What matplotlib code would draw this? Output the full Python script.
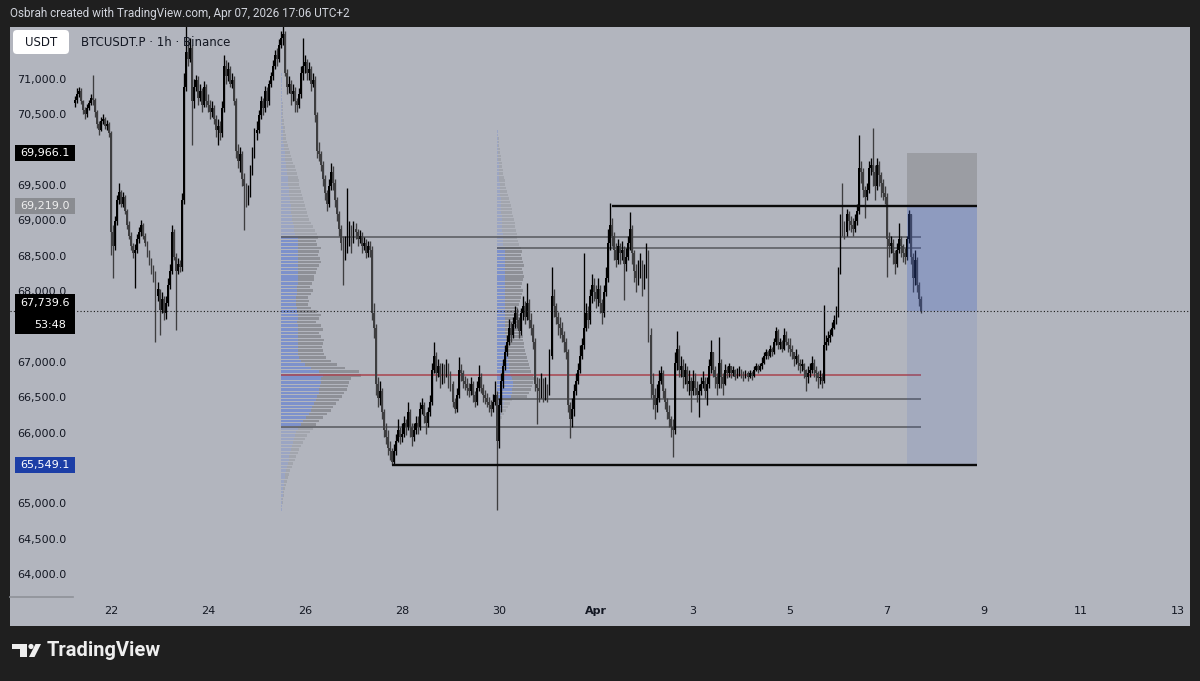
import matplotlib
matplotlib.use('Agg')
import matplotlib.pyplot as plt
import matplotlib.dates as mdates
from matplotlib.patches import Rectangle, FancyBboxPatch, Polygon, Circle
from matplotlib.transforms import blended_transform_factory
import numpy as np
import pandas as pd

plt.rcParams['font.family'] = ['DejaVu Sans']

# ---- BTCUSDT.P 1h candles (open = previous close) ----
first_open = 70680
first_bar = '2026-03-21 06:00'

close = [
    # Mar 21 (06:00 - 23:00)
    70720, 70800, 70850, 70700, 70580, 70520, 70600, 70680, 70750, 70720, 70550, 70380, 70300, 70420, 70450, 70350, 70380, 70250,
    # Mar 22
    68850, 68650, 69000, 69300, 69420, 69250, 69350, 69150, 68950, 68800, 68650, 68550, 68600, 68750, 68850, 68950, 68800, 68700, 68550, 68450, 68300, 68250, 67950, 68050,
    # Mar 23
    67750, 67900, 67700, 67850, 68100, 68300, 68850, 68500, 68300, 68400, 68350, 69300, 70900, 71400, 71300, 71450, 70700, 70900, 71000, 70750, 70850, 70650, 70900, 70700,
    # Mar 24
    70650, 70550, 70600, 70450, 70300, 70350, 70250, 70600, 71200, 71050, 71150, 70950, 71000, 70700, 70000, 69850, 69950, 69600, 69500, 69300, 69400, 69700, 69950, 70250,
    # Mar 25
    70300, 70500, 70700, 70600, 70850, 70700, 70950, 71050, 71200, 71350, 71300, 71500, 71600, 71650, 71100, 70900, 70950, 70800, 70850, 70700, 70650, 70800, 71100, 71200,
    # Mar 26
    71250, 71100, 71150, 70950, 71000, 70500, 70000, 69950, 69800, 69600, 69400, 69250, 69500, 69700, 69550, 69300, 69100, 68900, 68700, 68550, 68650, 68800, 68900, 68700,
    # Mar 27
    68900, 68850, 68750, 68800, 68650, 68700, 68550, 68650, 68600, 67700, 67500, 66700, 66500, 66600, 66300, 66050, 65950, 65800, 65750, 65600, 65750, 65900, 66050, 65950,
    # Mar 28
    66000, 66150, 66100, 66300, 66100, 65950, 66050, 66150, 66100, 66350, 66400, 66250, 66150, 66300, 66450, 66900, 67100, 66850, 66950, 66800, 66900, 66850, 66950, 66800,
    # Mar 29
    66700, 66450, 66350, 66550, 66900, 66850, 66750, 66700, 66650, 66600, 66700, 66550, 66450, 66650, 66800, 66650, 66550, 66500, 66450, 66400, 66350, 66450, 66550, 65900,
    # Mar 30
    66400, 66750, 66950, 67150, 67300, 67500, 67400, 67550, 67700, 67600, 67450, 67700, 67800, 67650, 67850, 67600, 67500, 67300, 66700, 66650, 66600, 66700, 66550, 66650,
    # Mar 31
    66600, 67100, 67950, 67800, 67650, 67550, 67500, 67400, 67300, 67150, 66400, 66200, 66350, 66600, 66750, 66900, 67100, 67250, 67500, 67700, 67600, 67950, 68100, 68000,
    # Apr 1
    67900, 68050, 67850, 67700, 68000, 68200, 68700, 68950, 68800, 68600, 68450, 68650, 68550, 68600, 68400, 68500, 68700, 68900, 68550, 68300, 68200, 68350, 68400, 68150,
    # Apr 2
    68300, 68550, 67400, 66700, 66550, 66400, 66500, 66750, 66850, 66600, 66450, 66300, 66200, 66100, 66050, 67000, 67200, 66900, 66950, 66800, 66900, 66700, 66750, 66600,
    # Apr 3
    66750, 66650, 66550, 66600, 66700, 66750, 66600, 66700, 66950, 67150, 66900, 66800, 66700, 67000, 66800, 66700, 66900, 66850, 66950, 66850, 66900, 66800, 66850, 66900,
    # Apr 4
    66850, 66800, 66850, 66800, 66850, 66820, 66900, 66950, 66900, 66950, 67000, 67100, 67150, 67100, 67200, 67150, 67300, 67450, 67250, 67300, 67200, 67400, 67300, 67250,
    # Apr 5
    67200, 67150, 67050, 67100, 67000, 66950, 66980, 66900, 66800, 66850, 66900, 67000, 66900, 66850, 66780, 66800, 66750, 67250, 67300, 67350, 67400, 67500, 67600, 67700,
    # Apr 6
    68300, 69000, 68900, 68850, 69100, 69000, 68950, 68900, 69000, 69150, 69750, 69700, 69450, 69350, 69450, 69750, 69800, 69700, 69500, 69800, 69650, 69550, 69400, 69350,
    # Apr 7 (00:00 - 17:00)
    68750, 68650, 68700, 68550, 68400, 68600, 68750, 68650, 68550, 68500, 68750, 69100, 68500, 68200, 68450, 68100, 67900, 67739.6,
]

high = [
    70780, 70880, 70900, 70880, 70720, 70620, 70660, 70720, 70800, 71070, 70740, 70570, 70420, 70480, 70520, 70480, 70430, 70400,
    70280, 68950, 69080, 69380, 69540, 69450, 69420, 69380, 69180, 69000, 68850, 68700, 68680, 68820, 68920, 69020, 68980, 68840, 68720, 68600, 68480, 68380, 68300, 68150,
    67900, 68000, 67950, 67950, 68200, 68400, 68950, 68900, 68560, 68480, 68450, 69400, 71100, 71780, 71550, 71600, 71500, 71020, 71070, 71050, 70950, 70880, 70980, 70950,
    70800, 70720, 70700, 70640, 70500, 70450, 70420, 70700, 71350, 71280, 71250, 71200, 71100, 71050, 70750, 70100, 70050, 70000, 69680, 69550, 69520, 69800, 70050, 70320,
    70420, 70580, 70780, 70750, 70920, 70900, 71000, 71120, 71280, 71420, 71450, 71580, 71700, 71900, 71700, 71150, 71050, 71000, 70950, 70900, 70750, 70880, 71200, 71600,
    71350, 71300, 71250, 71200, 71100, 71050, 70550, 70120, 70000, 69850, 69650, 69450, 69600, 69820, 69780, 69600, 69350, 69150, 68950, 68800, 68800, 69470, 69000, 68950,
    69000, 68980, 68900, 68880, 68850, 68780, 68750, 68720, 68720, 68650, 67850, 67550, 66800, 66750, 66650, 66350, 66150, 66050, 65900, 65800, 65850, 66000, 66200, 66100,
    66150, 66250, 66200, 66450, 66350, 66150, 66150, 66250, 66250, 66450, 66500, 66450, 66300, 66380, 66550, 67000, 67300, 67150, 67050, 67000, 67000, 66980, 67050, 67000,
    66880, 66750, 66500, 66650, 67080, 66980, 66900, 66820, 66780, 66720, 66800, 66750, 66600, 66750, 66970, 66850, 66700, 66620, 66580, 66520, 66480, 66560, 66750, 66600,
    66500, 66850, 67050, 67250, 67400, 67620, 67580, 67650, 67800, 67780, 67650, 67780, 67950, 67880, 68130, 67900, 67700, 67550, 67350, 66800, 66780, 66850, 66780, 66800,
    66700, 67200, 68360, 68050, 67850, 67720, 67650, 67580, 67450, 67350, 67200, 66450, 66500, 66700, 66850, 67000, 67250, 67350, 68550, 67850, 67800, 68050, 68250, 68200,
    68100, 68200, 68100, 67900, 68100, 68350, 68900, 69260, 69050, 68850, 68700, 68750, 68700, 68720, 68650, 68620, 68800, 69130, 68950, 68600, 68400, 68450, 68550, 68450,
    68400, 68700, 68600, 67500, 66850, 66650, 66700, 66900, 66950, 66900, 66650, 66500, 66400, 66250, 66200, 67150, 67450, 67250, 67100, 67050, 67000, 66950, 66900, 66800,
    66900, 66850, 66750, 66700, 66800, 66880, 66800, 66800, 67050, 67320, 67150, 66950, 66850, 67370, 67050, 66850, 66980, 66950, 67000, 66950, 66960, 66920, 66930, 66960,
    66920, 66880, 66900, 66880, 66900, 66880, 66950, 67000, 66980, 67000, 67080, 67150, 67200, 67180, 67250, 67230, 67350, 67510, 67480, 67350, 67320, 67500, 67450, 67350,
    67350, 67250, 67150, 67200, 67120, 67050, 67050, 67000, 66920, 66950, 67000, 67100, 67050, 66950, 66880, 66900, 66850, 67820, 67400, 67450, 67480, 67580, 67680, 67800,
    68350, 69100, 69550, 69000, 69180, 69150, 69080, 69050, 69100, 69250, 70220, 69850, 69750, 69500, 69550, 69850, 69900, 70320, 69800, 69900, 69850, 69700, 69600, 69500,
    69400, 68850, 68800, 68750, 68600, 68700, 68980, 68800, 68680, 68620, 68800, 69160, 69100, 68550, 68590, 68500, 68150, 67950,
]

low = [
    70620, 70680, 70760, 70660, 70520, 70450, 70480, 70580, 70650, 70640, 70480, 70320, 70220, 70280, 70380, 70310, 70300, 70200,
    68530, 68200, 68600, 68950, 69250, 69200, 69200, 69100, 68900, 68750, 68600, 68480, 68060, 68550, 68700, 68800, 68750, 68650, 68500, 68380, 68250, 68150, 67300, 67880,
    67400, 67700, 67600, 67620, 67800, 68050, 68250, 68450, 67460, 68250, 68280, 68300, 69250, 70850, 71200, 71250, 70080, 70600, 70850, 70650, 70700, 70550, 70620, 70620,
    70550, 70450, 70480, 70380, 70200, 70080, 70150, 70200, 70550, 70950, 70980, 70900, 70880, 70650, 69900, 69750, 69700, 69500, 68880, 69200, 69230, 69350, 69650, 69900,
    70150, 70250, 70450, 70500, 70550, 70620, 70650, 70900, 71000, 71150, 71200, 71250, 71450, 71500, 71050, 70800, 70820, 70650, 70700, 70550, 70550, 70600, 70750, 71000,
    71100, 71000, 71000, 70850, 70900, 70400, 69900, 69850, 69720, 69500, 69300, 69150, 69200, 69450, 69450, 69200, 69000, 68800, 68600, 68100, 68450, 68550, 68650, 68550,
    68750, 68750, 68650, 68700, 68550, 68600, 68480, 68500, 68500, 67600, 67350, 66550, 66380, 66400, 66200, 65950, 65850, 65700, 65620, 65549, 65550, 65700, 65880, 65850,
    65880, 65950, 65980, 66050, 65950, 65820, 65900, 66000, 66000, 66050, 66280, 66150, 66000, 66100, 66250, 66400, 66850, 66750, 66800, 66650, 66700, 66720, 66800, 66650,
    66600, 66380, 66290, 66300, 66500, 66750, 66650, 66620, 66550, 66520, 66550, 66450, 66380, 66400, 66600, 66580, 66450, 66420, 66380, 66300, 66250, 66300, 66400, 64920,
    65800, 66300, 66650, 66900, 67100, 67250, 67300, 67350, 67500, 67500, 67350, 67400, 67600, 67550, 67600, 67500, 67400, 67200, 66600, 66130, 66450, 66500, 66450, 66480,
    66450, 66550, 67050, 67650, 67550, 67400, 67350, 67300, 67150, 67050, 66300, 65940, 66100, 66250, 66550, 66700, 66850, 67050, 67200, 67450, 67500, 67550, 67850, 67880,
    67780, 67800, 67700, 67550, 67650, 67950, 68150, 68600, 68650, 68450, 68350, 68400, 68400, 68450, 67890, 68300, 68450, 68600, 68400, 68150, 68000, 68100, 68200, 67950,
    68050, 68200, 67300, 66500, 66350, 66200, 66300, 66450, 66700, 66500, 66350, 66200, 66100, 65950, 65670, 66000, 66900, 66800, 66800, 66650, 66700, 66600, 66550, 66300,
    66550, 66550, 66450, 66240, 66550, 66650, 66500, 66400, 66650, 66850, 66800, 66650, 66550, 66650, 66650, 66550, 66680, 66780, 66800, 66780, 66820, 66760, 66780, 66820,
    66780, 66740, 66780, 66740, 66780, 66760, 66800, 66880, 66850, 66880, 66920, 66980, 67050, 67050, 67080, 67100, 67120, 67250, 67200, 67200, 67150, 67180, 67250, 67150,
    67100, 67050, 66950, 66980, 66900, 66850, 66880, 66780, 66600, 66720, 66800, 66860, 66800, 66750, 66650, 66700, 66650, 66720, 67180, 67250, 67300, 67380, 67480, 67550,
    67650, 68250, 68800, 68750, 68800, 68880, 68850, 68800, 68850, 68950, 69100, 69550, 69350, 69050, 69300, 69400, 69650, 69500, 69300, 69450, 69500, 69350, 69300, 69250,
    68210, 68500, 68550, 68400, 68250, 68350, 68550, 68500, 68420, 68400, 68450, 68700, 68400, 68000, 68100, 68000, 67800, 67700,
]

# ---- fixed range volume profiles (rows of 50 USDT, bottom to top) ----
vp_row = 50
vp1_anchor = '2026-03-25 12:00'
vp1_base = 64900
vp1_total = [1, 1, 2, 2, 3, 3, 4, 5, 6, 7,
             8, 9, 11, 12, 14, 15, 17, 18, 20, 22,
             24, 26, 29, 32,
             35, 38, 42, 46, 50,
             52, 55, 58, 61, 63,
             66, 67, 68, 70, 80,
             78, 64, 56, 50, 45, 43, 42, 41, 42,
             43, 40, 38, 42, 40, 35, 38, 40, 36,
             30, 27, 28, 27, 30, 32, 29, 31, 33,
             33, 35, 36, 38, 40, 39, 37, 38, 40, 36, 35, 37,
             36, 34, 32, 30, 28, 27, 26,
             25, 24, 23, 22, 21, 20, 19, 18, 18, 17,
             16, 15, 14, 12, 11, 10, 9, 8, 7,
             6, 5, 5, 4, 4, 3, 3, 2, 2, 2,
             2, 2, 1, 1, 1, 1, 1, 1, 1, 1]
vp1_up = [1, 1, 1, 1, 2, 2, 2, 3, 3, 4,
          4, 5, 6, 7, 8, 8, 9, 10, 11, 12,
          13, 14, 15, 17,
          20, 22, 25, 28, 30,
          31, 33, 35, 36, 38,
          38, 39, 40, 40, 42,
          38, 30, 24, 20, 18, 17, 17, 17, 17,
          17, 17, 17, 17, 17, 16, 17, 17, 16,
          16, 15, 15, 15, 16, 16, 16, 17, 17,
          17, 17, 17, 17, 17, 17, 17, 17, 17, 17, 17, 17,
          14, 13, 13, 12, 11, 11, 10,
          10, 10, 9, 9, 8, 8, 8, 7, 7, 7,
          6, 6, 5, 5, 4, 4, 4, 3, 3,
          2, 2, 2, 2, 2, 1, 1, 1, 1, 1,
          1, 1, 1, 1, 1, 1, 1, 1, 1, 1]
vp1_val, vp1_vah = 66094, 68780

vp2_anchor = '2026-03-29 23:00'
vp2_base = 66150
vp2_total = [3, 5, 7, 9, 11, 13, 15,
             30, 32, 34, 35, 36, 37, 36, 34,
             33, 32, 31, 30, 29, 28, 27, 27, 26, 26,
             25, 24, 23, 24, 22, 23, 22, 21,
             22, 23, 24, 25, 26, 24, 25, 26,
             27, 26, 25, 27, 26, 25, 24, 25, 24,
             22, 21, 20, 20, 19, 18, 18, 17, 16, 15, 15, 14,
             13, 12, 11, 10, 9, 8, 8, 7, 6, 6,
             5, 5, 4, 4, 3, 3, 2, 2, 2, 1, 1]
vp2_up = [2, 3, 4, 5, 6, 7, 8,
          14, 15, 15, 16, 16, 15, 14, 13,
          12, 12, 11, 11, 10, 10, 9, 9, 9, 9,
          8, 8, 8, 8, 8, 8, 8, 8,
          8, 8, 8, 8, 8, 8, 8, 8,
          8, 8, 8, 8, 8, 8, 8, 8, 8,
          6, 6, 6, 6, 5, 5, 5, 5, 5, 4, 4, 4,
          4, 4, 3, 3, 3, 3, 2, 2, 2, 2,
          2, 2, 1, 1, 1, 1, 1, 1, 1, 1, 1]
vp2_val, vp2_vah = 66489, 68625
poc = 66829

# ---- drawings ----
last_price = 67739.6
entry, stop, target = 69219.0, 69966.1, 65549.1
pos_start, pos_end = '2026-04-07 10:00', '2026-04-08 20:30'
range_high_start = '2026-04-01 08:00'
range_low_start = '2026-03-27 19:00'

price_ticks = [71000, 70500, 69500, 69000, 68500, 68000, 67000, 66500, 66000, 65000, 64500, 64000]
tick_dates = ['2026-03-22', '2026-03-24', '2026-03-26', '2026-03-28', '2026-03-30', '2026-04-01',
              '2026-04-03', '2026-04-05', '2026-04-07', '2026-04-09', '2026-04-11', '2026-04-13']
tick_labels = ['22', '24', '26', '28', '30', 'Apr', '3', '5', '7', '9', '11', '13']

view_start, view_end = '2026-03-19 22:00', '2026-04-13 06:00'
price_bottom, price_top = 63278.8, 71749.5

assert len(close) == len(high) == len(low)
assert len(vp1_total) == len(vp1_up) and len(vp2_total) == len(vp2_up)

d = lambda s: mdates.date2num(pd.Timestamp(s))

times = pd.date_range(first_bar, periods=len(close), freq='h')
x = mdates.date2num(times)
c = np.array(close, float)
o = np.concatenate([[first_open], c[:-1]])
hi = np.maximum(np.array(high, float), np.maximum(o, c))
lo = np.minimum(np.array(low, float), np.minimum(o, c))

W, H = 1200, 681
fig = plt.figure(figsize=(W / 100, H / 100), dpi=100, facecolor='#1f1f1f')

# chart pane (gray area incl. time scale strip)
ax = fig.add_axes([10 / W, 1 - 626 / H, 1180 / W, 599 / H])
ax.set_facecolor('#b2b5be')
ax.set_xlim(d(view_start), d(view_end))
ax.set_ylim(price_bottom, price_top)
ax.set_xticks([])
ax.set_yticks([])
for s in ax.spines.values():
    s.set_visible(False)

px_per_day = 1180 / (d(view_end) - d(view_start))
price_per_px = (price_top - price_bottom) / 599

# overlay in figure pixels
ov = fig.add_axes([0, 0, 1, 1])
ov.set_xlim(0, W)
ov.set_ylim(H, 0)
ov.axis('off')
tr_y = blended_transform_factory(ov.transData, ax.transData)   # x pixels, y price
tr_x = blended_transform_factory(ax.transData, ov.transData)   # x date, y pixels


def draw_vp(anchor, base, total, up_vol, val, vah):
    a = d(anchor)
    total = np.array(total, float)
    up_vol = np.array(up_vol, float)
    mid = base + vp_row * (np.arange(len(total)) + 0.5)
    inside = (mid >= val) & (mid <= vah)
    blue = [(0.29, 0.435, 0.847, 0.5 if i else 0.22) for i in inside]
    grey = [(0.37, 0.37, 0.385, 0.42 if i else 0.18) for i in inside]
    ax.barh(mid, up_vol / px_per_day, left=a, height=vp_row * 0.72, color=blue, lw=0, zorder=1)
    ax.barh(mid, (total - up_vol) / px_per_day, left=a + up_vol / px_per_day,
            height=vp_row * 0.72, color=grey, lw=0, zorder=1)


draw_vp(vp1_anchor, vp1_base, vp1_total, vp1_up, vp1_val, vp1_vah)
draw_vp(vp2_anchor, vp2_base, vp2_total, vp2_up, vp2_val, vp2_vah)

# value area / POC lines
ax.hlines([vp1_vah, vp1_val], d(vp1_anchor), x[-1], color='#56585d', lw=1.1, zorder=2)
ax.hlines([vp2_vah, vp2_val], d(vp2_anchor), x[-1], color='#56585d', lw=1.1, zorder=2)
ax.hlines(poc, d(vp1_anchor), x[-1], color='#a8444f', lw=1.1, zorder=2)

# candles
up = c >= o
bw = 0.88 / 24
for mask, col in ((up, '#000000'), (~up, '#3e3e40')):
    ax.vlines(x[mask], lo[mask], hi[mask], color=col, lw=0.95, zorder=3)
    body = np.maximum(np.abs(c - o)[mask], 15)
    ax.bar(x[mask], body, width=bw, bottom=np.minimum(o, c)[mask], color=col, lw=0, zorder=3)

# short position tool
ps, pe = d(pos_start), d(pos_end)
ax.add_patch(Rectangle((ps, entry), pe - ps, stop - entry, fc='#5d5d5d', alpha=0.27, lw=0, zorder=4))
ax.add_patch(Rectangle((ps, last_price), pe - ps, entry - last_price, fc='#3d5fc4', alpha=0.3, lw=0, zorder=4))
ax.add_patch(Rectangle((ps, target), pe - ps, last_price - target, fc='#3d5fc4', alpha=0.12, lw=0, zorder=4))

# range lines
ax.hlines(entry, d(range_high_start), pe, color='#0a0a0a', lw=1.7, zorder=5)
ax.hlines(target, d(range_low_start), pe, color='#0a0a0a', lw=1.7, zorder=5)

# last price dotted line
ax.axhline(last_price, color='#1a1a1a', lw=0.8, ls=(0, (1, 2)), zorder=5)

# price scale labels
for p in price_ticks:
    ax.text(42, p, f'{p:,.1f}', transform=tr_y, ha='center', va='center',
            fontsize=8, color='#131722', zorder=6)


def badge(p, label, fc, tc, up_px=8, down_px=8):
    ax.add_patch(Rectangle((15, p - down_px * price_per_px), 60, (up_px + down_px) * price_per_px,
                           transform=tr_y, fc=fc, lw=0, zorder=7))
    ax.text(45, p, label, transform=tr_y, ha='center', va='center', fontsize=8, color=tc, zorder=8)


badge(stop, f'{stop:,.1f}', '#000000', '#ffffff')
badge(entry, f'{entry:,.1f}', '#8a8c91', '#eeeeee')
badge(target, f'{target:,.1f}', '#1c3ea6', '#ffffff')
ax.add_patch(Rectangle((15, last_price - 23 * price_per_px), 60, 40 * price_per_px,
                       transform=tr_y, fc='#000000', lw=0, zorder=7))
ax.text(45, last_price + 8 * price_per_px, f'{last_price:,.1f}', transform=tr_y,
        ha='center', va='center', fontsize=8, color='#ffffff', zorder=8)
ax.text(66, last_price - 14 * price_per_px, '53:48', transform=tr_y,
        ha='right', va='center', fontsize=8, color='#ffffff', zorder=8)

# time scale labels
for t, lab in zip(tick_dates, tick_labels):
    ax.text(d(t), 611, lab, transform=tr_x, ha='center', va='center', fontsize=8,
            color='#131722', fontweight='bold' if lab == 'Apr' else 'normal', zorder=6)
ov.plot([10, 73], [597, 597], color='#8e9198', lw=1.2)

# header and legend
ov.text(10, 14, 'Osbrah created with TradingView.com, Apr 07, 2026 17:06 UTC+2',
        ha='left', va='center', fontsize=8.5, color='#d1d4dc', family=['Roboto', 'DejaVu Sans'])
ov.add_patch(FancyBboxPatch((13, 30), 56, 24, boxstyle='round,pad=0,rounding_size=4',
                            fc='#ffffff', ec='none'))
ov.text(41, 42, 'USDT', ha='center', va='center', fontsize=8.5, color='#131722')
ov.text(81, 42, 'BTCUSDT.P · 1h · Binance', ha='left', va='center', fontsize=8.5, color='#131722')

# TradingView logo
logo = '#eeeeee'
ov.add_patch(Rectangle((12, 644), 15, 5, fc=logo, lw=0))
ov.add_patch(Rectangle((20, 644), 7, 13, fc=logo, lw=0))
ov.add_patch(Circle((31, 646.5), 2.6, fc=logo, lw=0))
ov.add_patch(Polygon([(29, 657), (34.5, 657), (41, 644), (35.5, 644)], closed=True, fc=logo, lw=0))
ov.text(47, 651, 'TradingView', ha='left', va='center', fontsize=14.5, fontweight='bold',
        color=logo, family=['Roboto', 'DejaVu Sans'])

fig.savefig('out.png', dpi=100, facecolor=fig.get_facecolor())
